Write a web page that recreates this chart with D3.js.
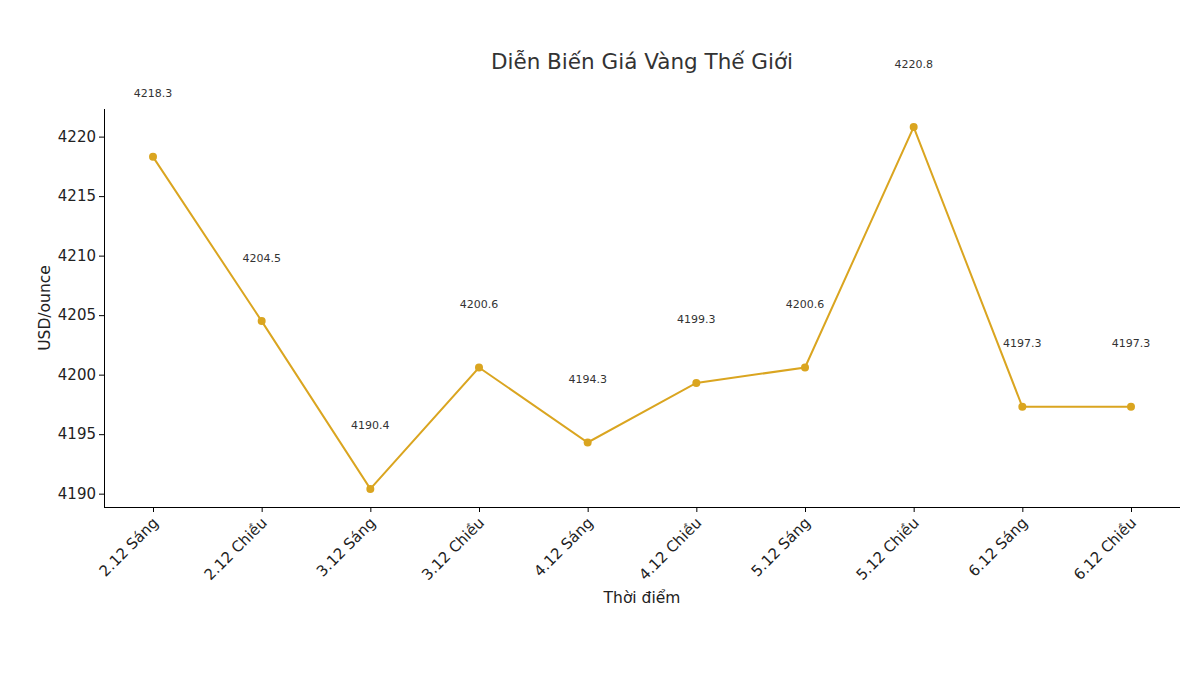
<!DOCTYPE html><html><head><meta charset="utf-8"><script src="https://cdn.jsdelivr.net/npm/d3@7"></script>
<style>body{margin:0;background:#fff}text{font-family:"DejaVu Sans",sans-serif}</style></head><body><svg id="c" width="1186" height="674"></svg><script>
const categories=["2.12 Sáng","2.12 Chiều","3.12 Sáng","3.12 Chiều","4.12 Sáng","4.12 Chiều","5.12 Sáng","5.12 Chiều","6.12 Sáng","6.12 Chiều"];
const values=[4218.3,4204.5,4190.4,4200.6,4194.3,4199.3,4200.6,4220.8,4197.3,4197.3];
const yTicks=[4190,4195,4200,4205,4210,4215,4220];
const svg=d3.select("#c");
const L=104,R=1180,T=109,B=507;
const x=d3.scalePoint().domain(categories).range([153,1131]);
const y=d3.scaleLinear().domain([4188.88,4222.32]).range([B,T]);
const col="#DAA520";
const gx=svg.append("g").attr("transform",`translate(0,${B})`).call(d3.axisBottom(x).tickSize(5).tickSizeOuter(0));
gx.select(".domain").attr("d",`M${L},0.5H${R}`);
gx.selectAll("text").attr("font-size",15).attr("fill","#222").attr("text-anchor","end").attr("x",0).attr("y",0).attr("dy","0.35em").attr("transform","translate(2,13) rotate(-45)");
const gy=svg.append("g").attr("transform",`translate(${L},0)`).call(d3.axisLeft(y).tickValues(yTicks).tickFormat(d3.format("d")).tickSize(5).tickSizeOuter(0));
gy.select(".domain").attr("d",`M0.5,${T}V${B}`);
gy.selectAll("text").attr("font-size",15).attr("fill","#222");
svg.append("path").datum(values).attr("fill","none").attr("stroke",col).attr("stroke-width",2)
 .attr("d",d3.line().x((d,i)=>x(categories[i])).y(d=>y(d)));
svg.selectAll("circle").data(values).join("circle").attr("cx",(d,i)=>x(categories[i])).attr("cy",d=>y(d)).attr("r",4).attr("fill",col);
svg.selectAll(".lbl").data(values).join("text").attr("class","lbl").attr("x",(d,i)=>x(categories[i])).attr("y",d=>y(d+5)).attr("text-anchor","middle").attr("font-size",11).attr("fill","#333").text(d=>d.toFixed(1));
svg.append("text").attr("x",642).attr("y",69).attr("text-anchor","middle").attr("font-size",21.5).attr("fill","#333").text("Diễn Biến Giá Vàng Thế Giới");
svg.append("text").attr("x",642).attr("y",603).attr("text-anchor","middle").attr("font-size",15.5).attr("fill","#222").text("Thời điểm");
svg.append("text").attr("transform","translate(50,308) rotate(-90)").attr("text-anchor","middle").attr("font-size",15.5).attr("fill","#222").text("USD/ounce");
</script></body></html>
